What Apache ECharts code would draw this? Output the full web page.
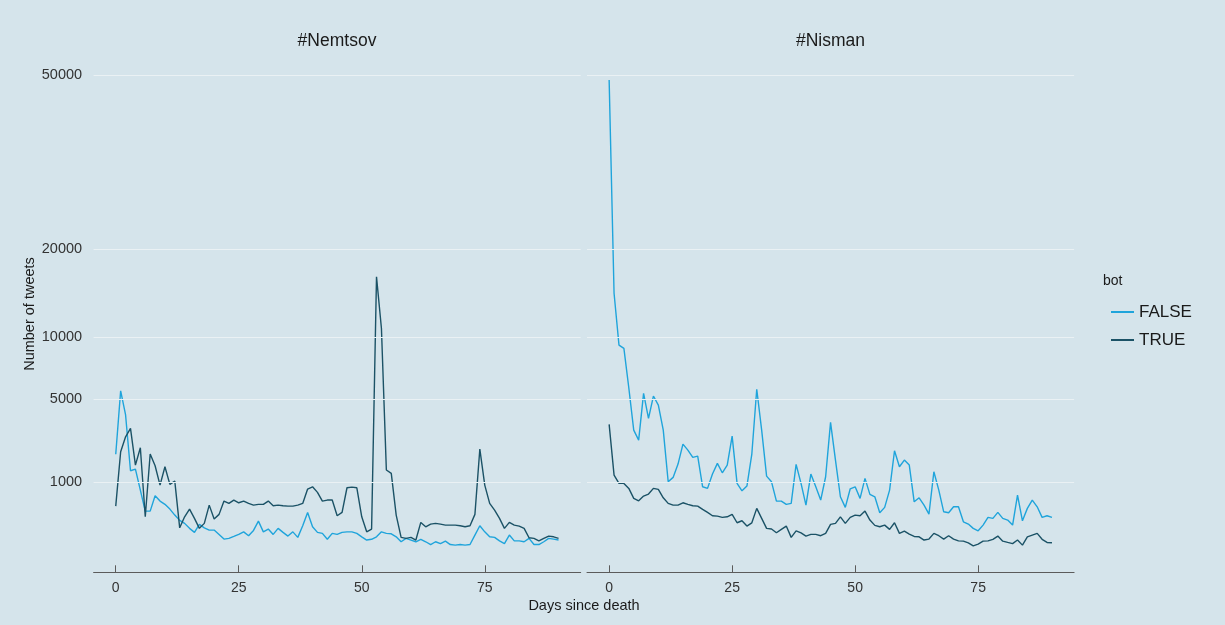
<!DOCTYPE html>
<html><head><meta charset="utf-8">
<script src="https://cdn.jsdelivr.net/npm/echarts@6/dist/echarts.min.js"></script>
<style>html,body{margin:0;padding:0;background:#d5e4eb;} #c{width:1225px;height:625px;}</style>
</head><body><div id="c"></div>
<script>
const panels = ['#Nemtsov', '#Nisman'];
const groups = ['FALSE', 'TRUE'];
const days = Array.from({length: 91}, (_, i) => i);

const nemtsovFalse = [1990,5565,3990,1356,1417,767,316,316,626,507,440,351,253,180,144,93,60,133,98,78,78,46,21,24,34,46,64,38,75,171,64,87,46,93,60,36,64,29,118,295,108,60,53,20,53,46,60,64,64,53,32,17,20,32,64,53,50,32,11,24,17,11,20,11,4,11,6,13,4,3,4,3,4,42,118,64,32,29,14,6,42,14,14,11,24,4,4,11,24,21,17];
const nemtsovTrue = [406,2097,2796,3230,1561,2274,228,2000,1536,904,1499,924,1022,98,228,351,206,93,144,425,197,264,507,459,529,472,507,459,425,440,440,507,412,425,412,406,406,425,459,795,857,709,507,529,529,243,295,830,848,830,228,64,87,16490,10830,1383,1268,253,29,24,29,17,155,108,136,144,136,125,125,125,118,108,118,264,2217,904,459,334,206,93,155,125,115,93,27,24,14,24,36,32,24];
const nismanFalse = [48970,14550,9250,8950,5760,3140,2630,5380,3790,5200,4600,3140,1000,1136,1600,2443,2170,1862,1916,857,813,1244,1625,1288,1561,2830,953,750,876,2000,5670,3140,1177,1000,507,507,440,459,1588,953,425,1244,857,529,1156,3560,1755,603,382,802,857,566,1104,659,603,289,382,767,2141,1499,1755,1561,492,580,425,269,1322,767,305,289,393,393,162,136,93,72,125,220,206,295,206,184,125,643,175,364,529,393,220,243,220];
const nismanTrue = [3450,1211,953,953,813,566,514,619,667,813,786,580,459,425,425,472,440,412,406,346,295,243,238,220,228,264,151,175,115,150,364,206,93,87,57,84,115,29,72,57,36,46,46,38,53,133,144,228,144,220,253,243,317,184,122,108,125,84,151,53,70,48,34,32,17,21,53,38,21,38,21,14,13,8,2,5,13,14,20,36,13,9,6,17,3,32,42,53,20,9,8];

const yTicks = [1000, 5000, 10000, 20000, 50000];
const xTicks = [0, 25, 50, 75];

const colors = {FALSE: '#1fa4db', TRUE: '#1b5266'};
const panelData = [
  {FALSE: nemtsovFalse, TRUE: nemtsovTrue},
  {FALSE: nismanFalse, TRUE: nismanTrue}
];

const tr = v => Math.sqrt(v);
const FONT = 'Liberation Sans, Arial, sans-serif';
const Y_MIN = -11.1, Y_MAX = 232.4;

const grids = [
  {left: 93.6, width: 487.1, top: 56.5, height: 515.8},
  {left: 587, width: 487.1, top: 56.5, height: 515.8}
];

const xAxes = grids.map((g, i) => ({
  type: 'value', gridIndex: i, min: -4.5, max: 94.5,
  axisLine: {show: true, onZero: false, lineStyle: {color: '#5b5b5b', width: 1}},
  axisTick: {show: true, inside: true, length: 7, customValues: xTicks, lineStyle: {color: '#5b5b5b', width: 1}},
  axisLabel: {show: true, customValues: xTicks, margin: 9, fontSize: 14, color: '#333', fontFamily: FONT},
  splitLine: {show: false}
}));
const yAxes = grids.map((g, i) => ({
  type: 'value', gridIndex: i, min: Y_MIN, max: Y_MAX,
  axisLine: {show: false}, axisTick: {show: false}, splitLine: {show: false},
  axisLabel: {show: i === 0, customValues: yTicks.map(tr), margin: 11.5, fontSize: 14.5, color: '#333', fontFamily: FONT,
    formatter: v => String(Math.round(v * v))}
}));

const series = [];
panels.forEach((p, i) => {
  series.push({
    type: 'line', xAxisIndex: i, yAxisIndex: i, data: [], silent: true, z: 1,
    markLine: {symbol: 'none', silent: true, animation: false, label: {show: false},
      lineStyle: {color: '#eaf1f4', width: 1.2, type: 'solid'},
      emphasis: {disabled: true},
      data: yTicks.map(v => ({yAxis: tr(v)}))}
  });
  groups.forEach(gname => {
    series.push({
      name: gname, type: 'line', xAxisIndex: i, yAxisIndex: i, z: 3,
      showSymbol: false, symbol: 'none',
      lineStyle: {color: colors[gname], width: 1.4},
      itemStyle: {color: colors[gname]},
      emphasis: {disabled: true},
      data: days.map(d => [d, tr(panelData[i][gname][d])])
    });
  });
});

const graphic = [
  {type: 'text', x: 337, y: 41, style: {text: panels[0], font: '17.5px ' + FONT, fill: '#1a1a1a', textAlign: 'center', textVerticalAlign: 'middle'}},
  {type: 'text', x: 830.5, y: 41, style: {text: panels[1], font: '17.5px ' + FONT, fill: '#1a1a1a', textAlign: 'center', textVerticalAlign: 'middle'}},
  {type: 'text', x: 584, y: 606, style: {text: 'Days since death', font: '14.5px ' + FONT, fill: '#1a1a1a', textAlign: 'center', textVerticalAlign: 'middle'}},
  {type: 'text', x: 30, y: 314, rotation: Math.PI / 2, style: {text: 'Number of tweets', font: '14.5px ' + FONT, fill: '#1a1a1a', textAlign: 'center', textVerticalAlign: 'middle'}},
  {type: 'text', x: 1103, y: 281, style: {text: 'bot', font: '14px ' + FONT, fill: '#1a1a1a', textAlign: 'left', textVerticalAlign: 'middle'}}
];

const chart = echarts.init(document.getElementById('c'), null, {renderer: 'canvas'});
chart.setOption({
  backgroundColor: '#d5e4eb',
  animation: false,
  grid: grids,
  xAxis: xAxes,
  yAxis: yAxes,
  legend: {data: groups, orient: 'vertical', left: 1106, top: 297, itemWidth: 23, itemHeight: 2, itemGap: 8,
    icon: 'rect', selectedMode: false,
    textStyle: {fontSize: 17, color: '#1a1a1a', fontFamily: FONT, lineHeight: 20}},
  graphic: graphic,
  series: series
});
</script>
</body></html>
